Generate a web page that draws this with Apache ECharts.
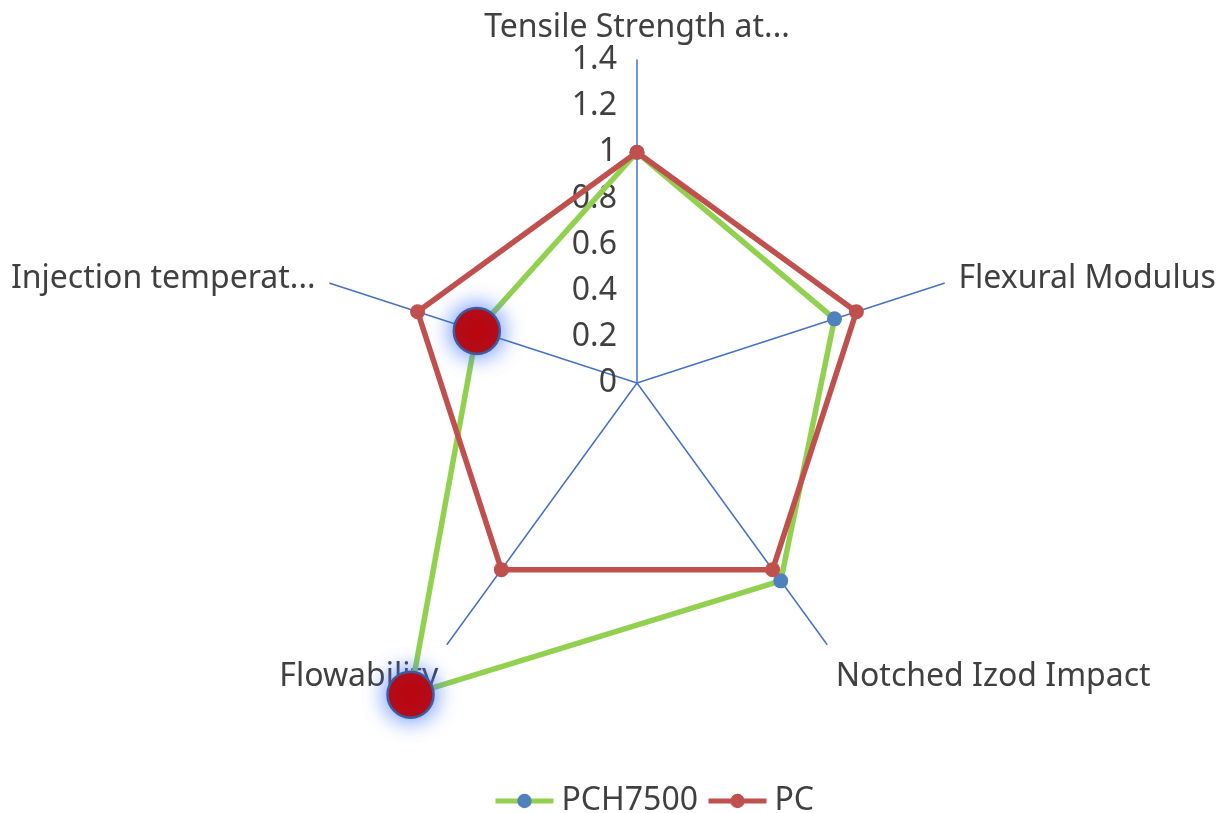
<!DOCTYPE html>
<html><head><meta charset="utf-8">
<script src="https://cdn.jsdelivr.net/npm/echarts@6/dist/echarts.min.js"></script>
<style>html,body{margin:0;padding:0;background:#fff}#c{width:1225px;height:813px}</style>
</head><body><div id="c"></div>
<script>
// ---- data ----
const categories = ['Tensile Strength at...', 'Flexural Modulus', 'Notched Izod Impact', 'Flowability', 'Injection temperat...'];
const seriesNames = ['PCH7500', 'PC'];
const pch7500 = [1, 0.9, 1.06, 1.67, 0.73];
const pc = [1, 1, 1, 1, 1];
const highlightedCategories = ['Flowability', 'Injection temperat...'];
const axisMin = 0;
const axisMax = 1.4;
const axisSplit = 7;

// ---- styles ----
const FONT = 'Noto Sans';
const FS = 32;
const TXT = '#404040';
const GREEN = '#92D050';
const BLUE = '#4F81BD';
const RED = '#C0504D';
const AXIS = '#4472C4';

// ECharts radar places indicators counter-clockwise from the top; Excel goes clockwise.
const order = categories.map((_, i) => (categories.length - i) % categories.length);
const lowerNames = ['Notched Izod Impact', 'Flowability'];

const indicator = order.map((ci, k) => {
  const ind = { name: categories[ci], min: axisMin, max: axisMax };
  if (k === 0) ind.axisLabel = { show: true };
  return ind;
});
const reorder = arr => order.map(ci => arr[ci]);

const chart = echarts.init(document.getElementById('c'));
chart.setOption({
  animation: false,
  backgroundColor: '#fff',
  textStyle: { fontFamily: FONT, color: TXT },
  legend: {
    data: seriesNames,
    left: 488,
    top: 780,
    itemWidth: 58,
    itemHeight: 18,
    itemGap: 8,
    lineStyle: { width: 5 },
    textStyle: { fontFamily: FONT, fontSize: FS, color: TXT, padding: [0, 0, 0, 3] }
  },
  grid: { left: 0, top: 0, width: 1, height: 1, show: false },
  xAxis: { type: 'category', show: false },
  yAxis: { type: 'value', show: false },
  radar: {
    center: [637, 383],
    radius: 323,
    startAngle: 90,
    splitNumber: axisSplit,
    shape: 'polygon',
    nameGap: 15,
    axisName: {
      color: TXT, fontFamily: FONT, fontSize: FS,
      formatter: name => lowerNames.includes(name) ? '{low|' + name + '}' : name,
      rich: { low: { color: TXT, fontFamily: FONT, fontSize: FS, padding: [40, 0, 0, 0] } }
    },
    axisLine: { show: true, lineStyle: { color: AXIS, width: 1.5 } },
    axisTick: { show: false },
    axisLabel: { show: false, color: TXT, fontFamily: FONT, fontSize: FS, margin: 20,
                 formatter: v => String(Math.round(v * 10) / 10) },
    splitLine: { show: false },
    splitArea: { show: false },
    indicator: indicator
  },
  polar: { center: [637, 383], radius: 323 },
  angleAxis: {
    type: 'category', data: categories, show: false,
    startAngle: 90 + 180 / categories.length, boundaryGap: true
  },
  radiusAxis: { type: 'value', min: axisMin, max: axisMax, show: false },
  series: [
    { type: 'line', name: 'PCH7500', data: [], symbol: 'circle',
      lineStyle: { color: GREEN, width: 5 }, itemStyle: { color: BLUE } },
    { type: 'line', name: 'PC', data: [], symbol: 'circle',
      lineStyle: { color: RED, width: 5 }, itemStyle: { color: RED } },
    { type: 'radar', name: 'PCH7500', z: 2,
      symbol: 'circle', symbolSize: 15,
      lineStyle: { color: GREEN, width: 5.5 }, itemStyle: { color: BLUE },
      data: [{ name: 'PCH7500', value: reorder(pch7500) }] },
    { type: 'radar', name: 'PC', z: 3,
      symbol: 'circle', symbolSize: 15,
      lineStyle: { color: RED, width: 5.5 }, itemStyle: { color: RED },
      data: [{ name: 'PC', value: reorder(pc) }] },
    { type: 'scatter', name: 'PCH7500', coordinateSystem: 'polar', z: 5, clip: false,
      symbol: 'circle', symbolSize: 46,
      itemStyle: { color: '#C00000', opacity: 1, borderColor: '#3B5CA0', borderWidth: 2.5,
                   shadowBlur: 22, shadowColor: 'rgba(70,120,255,0.95)' },
      data: highlightedCategories.map(n => {
        const i = categories.indexOf(n);
        return [pch7500[i], i];
      }) }
  ]
});
</script></body></html>
